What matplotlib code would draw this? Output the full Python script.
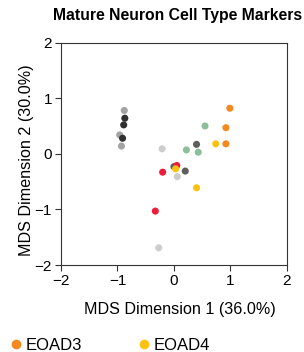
import matplotlib
matplotlib.use("Agg")
from matplotlib import pyplot as plt, rcParams
from matplotlib.lines import Line2D

rcParams['font.family'] = ['Liberation Sans', 'DejaVu Sans']

# MDS coordinates, grouped by colour
groups = ['EOAD3', 'EOAD4', 'red', 'green', 'lightgray', 'darkgray', 'black', 'gray']
colors = {
    'EOAD3': '#F5891F',
    'EOAD4': '#FDC210',
    'red': '#EC1C3A',
    'green': '#8DBE9A',
    'lightgray': '#CDCDCD',
    'darkgray': '#5E5E5E',
    'black': '#303030',
    'gray': '#A3A3A3',
}
dim1 = {
    'EOAD3': [0.99, 0.92, 0.92],
    'EOAD4': [0.74, 0.03, 0.40],
    'red': [0.05, -0.20, -0.33],
    'green': [0.55, 0.22, 0.43],
    'lightgray': [-0.21, 0.06, -0.27],
    'darkgray': [0.40, 0.00, 0.20],
    'black': [-0.87, -0.89, -0.91],
    'gray': [-0.88, -0.96, -0.93],
}
dim2 = {
    'EOAD3': [0.82, 0.47, 0.18],
    'EOAD4': [0.18, -0.27, -0.61],
    'red': [-0.21, -0.33, -1.03],
    'green': [0.50, 0.07, 0.03],
    'lightgray': [0.09, -0.41, -1.69],
    'darkgray': [0.17, -0.23, -0.31],
    'black': [0.64, 0.52, 0.28],
    'gray': [0.78, 0.34, 0.14],
}
draw_order = ['gray', 'black', 'lightgray', 'darkgray', 'green', 'red', 'EOAD3', 'EOAD4']
legend_groups = ['EOAD3', 'EOAD4']

fig = plt.figure(figsize=(3.04, 3.52), dpi=100)
ax = fig.add_axes([0.2007, 0.247, 0.743, 0.632])

for g in draw_order:
    ax.scatter(dim1[g], dim2[g], s=26, color=colors[g], edgecolors='none', zorder=3)

ax.set_xlim(-2, 2)
ax.set_ylim(-2, 2)
ax.set_xticks([-2, -1, 0, 1, 2])
ax.set_yticks([-2, -1, 0, 1, 2])
ax.tick_params(labelsize=11, length=4, color='#333333', pad=2.5)
for s in ax.spines.values():
    s.set_color('#333333')
    s.set_linewidth(0.8)
ax.set_xlabel('MDS Dimension 1 (36.0%)', fontsize=11.6)
ax.set_ylabel('MDS Dimension 2 (30.0%)', fontsize=11.6)
ax.xaxis.set_label_coords(0.527, -0.165)
ax.yaxis.set_label_coords(-0.118, 0.47)
ax.set_title('Mature Neuron Cell Type Markers', fontsize=11.3, fontweight='bold',
             pad=16, x=0.515)

handles = [Line2D([], [], marker='o', linestyle='none', markersize=7,
                  markerfacecolor=colors[g], markeredgecolor='none') for g in legend_groups]
fig.legend(handles, legend_groups, loc='lower left', bbox_to_anchor=(-0.02, -0.045),
           ncol=2, frameon=False, fontsize=12, handletextpad=0.2, columnspacing=3.3,
           handlelength=0.8)

plt.savefig('out.png', dpi=100)
